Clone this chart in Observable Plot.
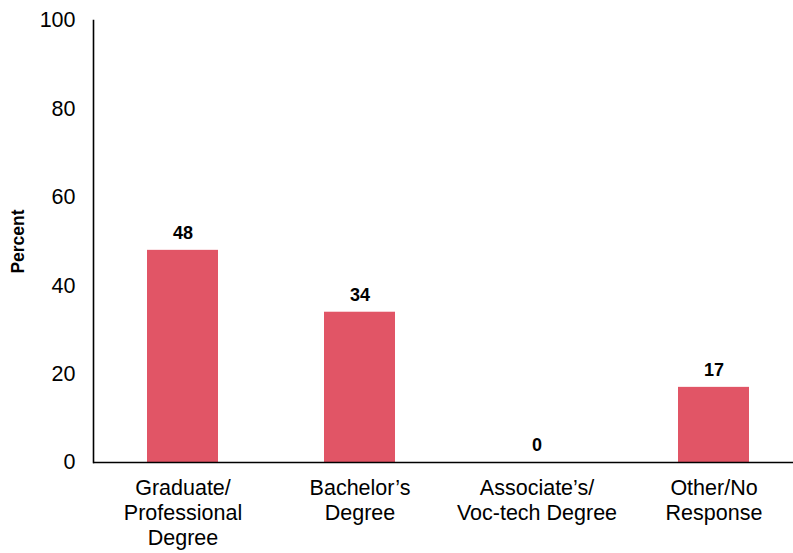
<!DOCTYPE html>
<html>
<head>
<meta charset="utf-8">
<script src="https://cdn.jsdelivr.net/npm/d3@7"></script>
<script src="https://cdn.jsdelivr.net/npm/@observablehq/plot@0.6"></script>
<style>
  html, body { margin: 0; padding: 0; background: #fff; }
</style>
</head>
<body>
<div id="chart"></div>
<script>
const categories = ["Graduate/\nProfessional\nDegree", "Bachelor’s\nDegree", "Associate’s/\nVoc-tech Degree", "Other/No\nResponse"];
const values = [48, 34, 0, 17];
const yTicks = [0, 20, 40, 60, 80, 100];
const barColor = "#e15566";

const data = categories.map((c, i) => ({cat: c, value: values[i]}));

const chart = Plot.plot({
  width: 793,
  height: 553,
  marginTop: 20,
  marginBottom: 91,
  marginLeft: 93,
  marginRight: 0,
  style: {fontFamily: "'Liberation Sans', Arial, Helvetica, sans-serif", background: "#fff", color: "#000"},
  x: {domain: categories, range: [93, 802], paddingInner: 0.6, paddingOuter: 0.3, label: null},
  y: {domain: [0, 100], ticks: yTicks, label: null},
  marks: [
    Plot.barY(data, {x: "cat", y: "value", fill: barColor}),
    Plot.frame({anchor: "left", stroke: "#000", strokeWidth: 1.6}),
    Plot.ruleY([0], {stroke: "#000", strokeWidth: 1.6}),
    Plot.axisY({ticks: yTicks, tickSize: 0, tickPadding: 18, fontSize: 21.5, label: null}),
    Plot.axisX({tickSize: 0, tickPadding: 14, fontSize: 21.5, lineHeight: 1.18, label: null}),
    Plot.text(data, {x: "cat", y: "value", text: d => String(d.value), dy: -17, fontSize: 18, fontWeight: "bold", lineAnchor: "middle"}),
    Plot.text(["Percent"], {frameAnchor: "left", textAnchor: "middle", rotate: -90, dx: -75, fontSize: 17.5, fontWeight: "bold"})
  ]
});
document.getElementById("chart").appendChild(chart);
</script>
</body>
</html>
